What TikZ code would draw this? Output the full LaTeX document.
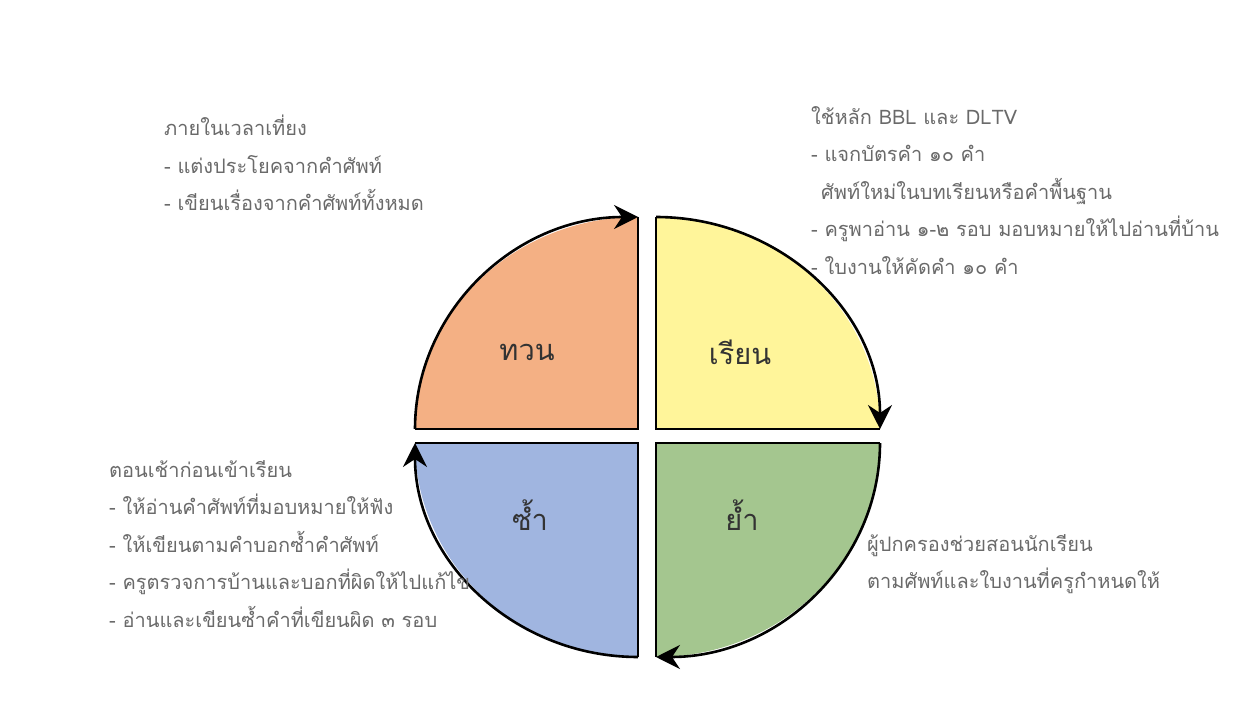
\documentclass[tikz,border=0pt]{standalone}
\usepackage{fontspec}
\newfontfamily\thaifont[Script=Thai]{Loma}
\usepackage{tikz}
\usetikzlibrary{positioning}
\usetikzlibrary{arrows.meta}

\definecolor{tuanfill}{HTML}{F4B084}
\definecolor{rianfill}{HTML}{FFF59A}
\definecolor{yamfill}{HTML}{A4C68F}
\definecolor{samfill}{HTML}{A0B5E0}
\definecolor{notegray}{HTML}{6A6A6A}

\tikzset{
	quarter/.style={draw=none},
	rim/.style={line width=2.6pt, -{Stealth[length=24pt,width=24pt,inset=8pt]}},
	side/.style={line width=2.6pt},
	note/.style={inner sep=0pt, align=left, text=notegray, font=\thaifont\fontsize{20}{37.6}\selectfont},
	step label/.style={text=black!80, font=\thaifont\fontsize{29}{32}\selectfont}
}

\begin{document}
\begin{tikzpicture}[x=1pt,y=1pt]

	\useasboundingbox (0,0) rectangle (1245,724);

	\coordinate (tl) at (638,295);
	\coordinate (tr) at (656,295);
	\coordinate (br) at (656,281);
	\coordinate (bl) at (638,281);

	% four quarters
	\fill[tuanfill] (tl) -- ++(-223,0) arc[start angle=180,end angle=90,x radius=223,y radius=212] -- cycle;
	\fill[rianfill] (tr) -- ++(0,212) arc[start angle=90,end angle=0,x radius=224,y radius=212] -- cycle;
	\fill[yamfill] (br) -- ++(224,0) arc[start angle=0,end angle=-90,x radius=224,y radius=214] -- cycle;
	\fill[samfill] (bl) -- ++(0,-214) arc[start angle=270,end angle=180,x radius=223,y radius=214] -- cycle;

	\draw[side] (tl) ++(0,212) |- ++(-223,-212);
	\draw[side] (tr) ++(224,0) -| ++(-224,212);
	\draw[side] (br) ++(0,-214) |- ++(224,214);
	\draw[side] (bl) ++(-223,0) -| ++(223,-214);

	% cycle arrows
	\draw[rim] (tl) ++(-223,0) arc[start angle=180,end angle=90,x radius=223,y radius=212];
	\draw[rim] (tr) ++(0,212) arc[start angle=90,end angle=0,x radius=224,y radius=212];
	\draw[rim] (br) ++(224,0) arc[start angle=0,end angle=-90,x radius=224,y radius=214];
	\draw[rim] (bl) ++(0,-214) arc[start angle=270,end angle=180,x radius=223,y radius=214];

	\node[step label] (tuan) at (527,372) {ทวน};
	\node[step label] (rian) at (740,372) {เรียน};
	\node[step label] (sam) at (530,209) {ซ้ำ};
	\node[step label] (yam) at (742,209) {ย้ำ};

	\node[note, anchor=north west] (noontime) at (164,609) {ภายในเวลาเที่ยง\\
		- แต่งประโยคจากคำศัพท์\\
		- เขียนเรื่องจากคำศัพท์ทั้งหมด};
	\node[note, anchor=north west] (lesson) at (811,618) {ใช้หลัก BBL และ DLTV\\
		- แจกบัตรคำ ๑๐ คำ\\
		\hspace*{10pt}ศัพท์ใหม่ในบทเรียนหรือคำพื้นฐาน\\
		- ครูพาอ่าน ๑-๒ รอบ มอบหมายให้ไปอ่านที่บ้าน\\
		- ใบงานให้คัดคำ ๑๐ คำ};
	\node[note, anchor=north west] (morning) at (109,264) {ตอนเช้าก่อนเข้าเรียน\\
		- ให้อ่านคำศัพท์ที่มอบหมายให้ฟัง\\
		- ให้เขียนตามคำบอกซ้ำคำศัพท์\\
		- ครูตรวจการบ้านและบอกที่ผิดให้ไปแก้ไข\\
		- อ่านและเขียนซ้ำคำที่เขียนผิด ๓ รอบ};
	\node[note, anchor=north west] (parents) at (867,190) {ผู้ปกครองช่วยสอนนักเรียน\\
		ตามศัพท์และใบงานที่ครูกำหนดให้};

\end{tikzpicture}
\end{document}
